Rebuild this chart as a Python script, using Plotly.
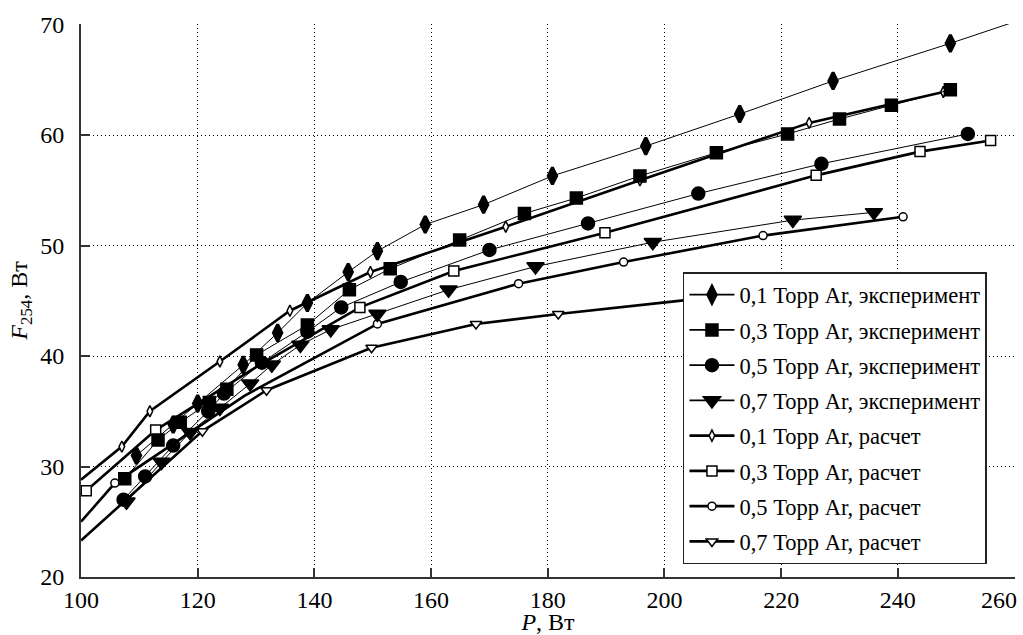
import plotly.graph_objects as go

# ---- data ----
exp01_x = [109.5, 115.8, 120.0, 127.8, 133.7, 138.8, 145.8, 150.8, 159.0, 169.0, 180.8, 196.8, 212.9, 228.9, 249.0, 262.0]
exp01_y = [31.0, 33.8, 35.7, 39.2, 42.1, 44.8, 47.6, 49.5, 51.9, 53.7, 56.3, 59.0, 61.9, 64.9, 68.3, 70.6]
exp01_m = [1, 1, 1, 1, 1, 1, 1, 1, 1, 1, 1, 1, 1, 1, 1, 0]

exp03_x = [107.5, 113.2, 117.0, 122.0, 125.0, 130.1, 138.8, 146.0, 153.0, 164.9, 176.0, 184.9, 195.8, 208.9, 221.1, 230.0, 238.9, 249.0]
exp03_y = [28.9, 32.4, 34.0, 35.8, 37.0, 40.1, 42.8, 46.0, 47.9, 50.5, 52.9, 54.3, 56.3, 58.4, 60.1, 61.45, 62.7, 64.1]

exp05_x = [107.3, 111.0, 115.8, 121.8, 124.5, 131.0, 138.8, 144.6, 154.8, 170.0, 186.9, 205.8, 226.9, 252.0]
exp05_y = [27.0, 29.1, 31.9, 35.0, 36.6, 39.4, 42.2, 44.4, 46.7, 49.6, 52.0, 54.7, 57.4, 60.1]

exp07_x = [107.8, 113.8, 118.7, 123.8, 129.0, 132.7, 137.6, 142.8, 150.8, 163.0, 177.9, 198.0, 222.0, 235.9]
exp07_y = [26.8, 30.4, 33.1, 35.3, 37.5, 39.2, 41.0, 42.4, 43.8, 46.0, 48.1, 50.3, 52.3, 53.0]

calc01_x = [100.0, 107.0, 111.8, 123.8, 135.8, 149.6, 172.8, 195.8, 224.8, 247.8]
calc01_y = [28.8, 31.8, 35.0, 39.5, 44.1, 47.6, 51.7, 55.9, 61.1, 63.9]
calc01_m = [0, 1, 1, 1, 1, 1, 1, 1, 1, 1]

calc03_x = [100.9, 112.8, 130.0, 147.8, 163.9, 189.8, 226.0, 243.8, 255.9]
calc03_y = [27.8, 33.3, 39.0, 44.4, 47.7, 51.15, 56.35, 58.5, 59.5]
calc03_m = [1, 1, 0, 1, 1, 1, 1, 1, 1]

calc05_x = [100.0, 105.8, 128.0, 150.8, 175.0, 193.0, 216.9, 240.9]
calc05_y = [25.0, 28.5, 36.4, 42.9, 46.55, 48.5, 50.9, 52.6]
calc05_m = [0, 1, 0, 1, 1, 1, 1, 1]

calc07_x = [100.0, 120.8, 131.8, 149.8, 167.7, 181.8, 200.9, 220.0, 240.0]
calc07_y = [23.3, 33.2, 36.9, 40.75, 42.9, 43.8, 44.9, 46.0, 47.0]
calc07_m = [0, 1, 1, 1, 1, 1, 0, 0, 0]

x_ticks = [100, 120, 140, 160, 180, 200, 220, 240, 260]
y_ticks = [20, 30, 40, 50, 60, 70]

names = [
    "0,1 Торр Ar, эксперимент",
    "0,3 Торр Ar, эксперимент",
    "0,5 Торр Ar, эксперимент",
    "0,7 Торр Ar, эксперимент",
    "0,1 Торр Ar, расчет",
    "0,3 Торр Ar, расчет",
    "0,5 Торр Ar, расчет",
    "0,7 Торр Ar, расчет",
]

FONT = "Liberation Serif"

series = [
    # name, x, y, marker-mask, symbol, size, fill, line width, marker line width
    (names[0], exp01_x, exp01_y, exp01_m, "diamond-tall", 12, "black", 1.0, 3),
    (names[1], exp03_x, exp03_y, None, "square", 12, "black", 1.0, 1.5),
    (names[2], exp05_x, exp05_y, None, "circle", 13, "black", 1.0, 1.5),
    (names[3], exp07_x, exp07_y, None, "triangle-down", 15, "black", 1.0, 1.5),
    (names[4], calc01_x, calc01_y, calc01_m, "diamond-tall", 8, "white", 2.6, 1.5),
    (names[5], calc03_x, calc03_y, calc03_m, "square", 10, "white", 2.6, 1.5),
    (names[6], calc05_x, calc05_y, calc05_m, "circle", 8, "white", 2.6, 1.5),
    (names[7], calc07_x, calc07_y, calc07_m, "triangle-down", 10, "white", 2.6, 1.5),
]

fig = go.Figure()

# draw calc curves first, then experiment so filled markers sit on top
draw_order = [4, 5, 6, 7, 0, 1, 2, 3]
for i in draw_order:
    name, xs, ys, mask, sym, size, fill, lw, mlw = series[i]
    fig.add_trace(go.Scatter(x=xs, y=ys, mode="lines",
                             line=dict(color="black", width=lw),
                             showlegend=False, hoverinfo="skip"))
    if mask is None:
        mx, my = xs, ys
    else:
        mx = [x for x, m in zip(xs, mask) if m]
        my = [y for y, m in zip(ys, mask) if m]
    fig.add_trace(go.Scatter(x=mx, y=my, mode="markers",
                             marker=dict(symbol=sym, size=size, color=fill,
                                         line=dict(color="black", width=mlw)),
                             showlegend=False, name=name))

# legend entries
for i, (name, xs, ys, mask, sym, size, fill, lw, mlw) in enumerate(series):
    fig.add_trace(go.Scatter(x=[None], y=[None], mode="lines+markers", name=name,
                             line=dict(color="black", width=max(lw, 1.8)),
                             marker=dict(symbol=sym, size=size, color=fill,
                                         line=dict(color="black", width=mlw)),
                             legendgroup=f"g{i}", legendrank=i + 1))

axis_common = dict(
    showline=True, linecolor="#333", linewidth=2,
    ticks="inside", ticklen=9, tickwidth=1.5, tickcolor="#333",
    showgrid=True, gridcolor="black", griddash="1px,3px", gridwidth=1,
    zeroline=False, mirror=False, automargin=False,
    tickfont=dict(family=FONT, size=24, color="black"),
)

# last x label would be clipped at the page edge: draw it as an annotation
x_labels = [str(v) for v in x_ticks[:-1]] + [""]
fig.update_xaxes(range=[100, 260.08], tickvals=x_ticks, ticktext=x_labels,
                 title=dict(text="<i>P</i>, Вт", font=dict(family=FONT, size=24, color="black"), standoff=0),
                 ticklabelstandoff=0, **axis_common)
fig.update_yaxes(range=[20, 70.05], tickvals=y_ticks, ticktext=[str(v) for v in y_ticks],
                 title=dict(text="<i>F</i><sub>254</sub>, Вт", font=dict(family=FONT, size=24, color="black"), standoff=6),
                 ticklabelstandoff=10, **axis_common)

fig.add_annotation(x=x_ticks[-1], y=0, xref="x", yref="paper", text=str(x_ticks[-1]),
                   showarrow=False, xanchor="right", yanchor="top", xshift=4, yshift=-8,
                   font=dict(family=FONT, size=24, color="black"))

fig.update_layout(
    width=1023, height=635,
    margin=dict(l=81, r=8, t=24, b=58),
    paper_bgcolor="white", plot_bgcolor="white",
    font=dict(family=FONT, color="black"),
    showlegend=True,
    legend=dict(x=0.6445, y=0.5515, xanchor="left", yanchor="top",
                bgcolor="white", bordercolor="#222", borderwidth=1.5,
                font=dict(family=FONT, size=22.5, color="black"),
                tracegroupgap=3, itemwidth=45, traceorder="grouped"),
)

# remove the default page margin so the figure sits at the window origin
page_fix = ("document.body.style.margin='0';"
            "document.body.style.overflow='hidden';"
            "document.documentElement.style.overflow='hidden';")

fig.write_html("out.html", post_script=page_fix, config={"displayModeBar": False})
